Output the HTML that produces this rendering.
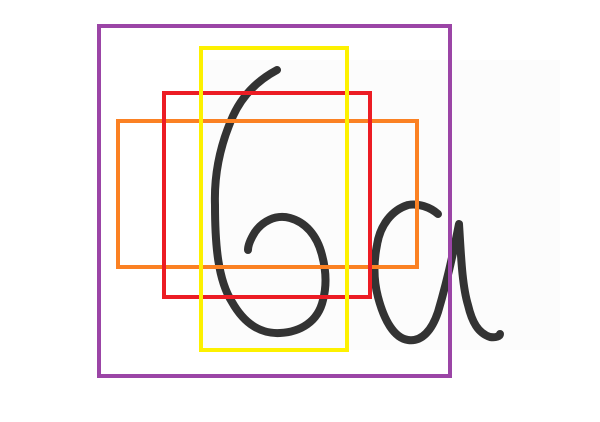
<!DOCTYPE html>
<html><head><meta charset="utf-8"><style>
html,body{margin:0;padding:0;background:#fff;}
svg{display:block;}
</style></head><body>
<svg id="chart" width="600" height="422" viewBox="0 0 600 422">
  <rect x="0" y="0" width="600" height="422" fill="#fff"/>
  <rect x="200" y="60" width="360" height="290" fill="#fcfcfc"/>
  <g fill="none" stroke="#333" stroke-linecap="round" stroke-linejoin="round" stroke-width="8">
    <path d="M277,70 C262,78 244,92 233,116 C220,145 214,175 215,205 C215,245 218,280 232,302 C245,325 262,334 280,333 C300,332 318,322 323,300 C327,285 326,270 322,255 C317,235 305,222 290,218 C275,214 262,222 255,232 C250,240 248,246 248,250"/>
    <path d="M438,214 C430,207 418,203 408,205 C392,210 380,225 377,245 C373,265 374,282 378,297 C384,320 394,338 408,340 C422,342 432,330 438,312 C446,285 453,255 459,224 C461,255 462,285 468,305 C472,322 478,333 490,337 C496,338 500,336 500,334"/>
  </g>
  <g id="boxes" fill="none" stroke-width="4"></g>
</svg>
<script>
const boxNames = ['purple-box','orange-box','red-box','yellow-box'];
const boxColors = ['#9b45a6','#fb8123','#ec1c24','#fdf100'];
const boxX0 = [99,118,164,201];
const boxY0 = [26,121,93,48];
const boxX1 = [450,417,370,347];
const boxY1 = [376,267,297,350];
const g = document.getElementById('boxes');
const NS = 'http://www.w3.org/2000/svg';
for (let i = 0; i < boxNames.length; i++) {
  const r = document.createElementNS(NS, 'rect');
  r.setAttribute('x', boxX0[i]);
  r.setAttribute('y', boxY0[i]);
  r.setAttribute('width', boxX1[i] - boxX0[i]);
  r.setAttribute('height', boxY1[i] - boxY0[i]);
  r.setAttribute('stroke', boxColors[i]);
  
  
  g.appendChild(r);
}
</script>
</body></html>
